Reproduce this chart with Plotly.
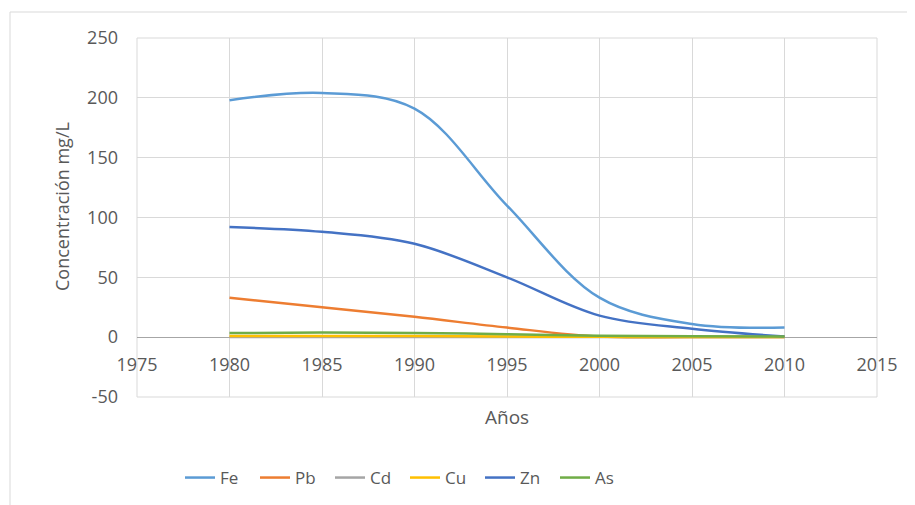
import plotly.graph_objects as go

years = [1980, 1985, 1990, 1995, 2000, 2005, 2010]
fe = [198, 204, 191, 110, 33, 11, 8]
pb = [33, 25, 17, 8, 0.5, 0.2, 0.1]
cd = [0.2, 0.2, 0.2, 0.1, 0.1, 0.1, 0.05]
cu = [1.0, 1.0, 0.9, 0.6, 0.3, 0.2, 0.1]
zn = [92, 88, 78, 50, 18, 7, 0.5]
as_ = [3.5, 3.8, 3.5, 2.5, 1.2, 0.8, 0.5]

x_ticks = [1975, 1980, 1985, 1990, 1995, 2000, 2005, 2010, 2015]
y_ticks = [-50, 0, 50, 100, 150, 200, 250]
y_tick_text = ["-50", "0", "50", "100", "150", "200", "250"]

series = [
    ("Fe", fe, "#5B9BD5"),
    ("Pb", pb, "#ED7D31"),
    ("Cd", cd, "#A5A5A5"),
    ("Cu", cu, "#FFC000"),
    ("Zn", zn, "#4472C4"),
    ("As", as_, "#70AD47"),
]

fig = go.Figure()
for name, vals, col in series:
    fig.add_trace(go.Scatter(
        x=years, y=vals, name=name, mode="lines",
        line=dict(color=col, width=2.5, shape="spline", smoothing=1.0),
    ))

FAM = "Open Sans, Liberation Sans, sans-serif"
GREY = "#595959"
font = dict(family=FAM, size=18, color=GREY)

# page offset (body margin) compensation
OFF = 8
FW, FH = 915, 505
L, R, T, B = 137 - OFF, 877 - OFF, 38 - OFF, 397 - OFF
W, H = R - L, B - T
def px(x):
    return (x - OFF - L) / W
def py(y):
    return (B - (y - OFF)) / H

fig.update_layout(
    width=FW, height=FH,
    margin=dict(l=L, r=FW - R, t=T, b=FH - B, autoexpand=False),
    paper_bgcolor="white", plot_bgcolor="white",
    font=font,
    showlegend=True,
    legend=dict(orientation="h", x=px(180), xanchor="left", y=py(478), yanchor="middle",
                font=dict(family=FAM, size=17, color=GREY), entrywidth=30, entrywidthmode="pixels",
                tracegroupgap=0),
    xaxis=dict(range=[1975, 2015], tickvals=x_ticks,
               showgrid=True, gridcolor="#d9d9d9", gridwidth=1,
               zeroline=False, showline=False, ticks="",
               anchor="free", position=50 / 300,
               tickfont=font, ticklabelstandoff=15),
    yaxis=dict(range=[-50, 250], tickvals=y_ticks, ticktext=y_tick_text,
               showgrid=True, gridcolor="#d9d9d9", gridwidth=1,
               zeroline=True, zerolinecolor="#a6a6a6", zerolinewidth=1,
               showline=False, ticks="", tickfont=font, ticklabelstandoff=18),
    annotations=[
        dict(text="Concentración mg/L", x=px(62), y=py(207), xref="paper", yref="paper",
             showarrow=False, textangle=-90, font=dict(family=FAM, size=18, color=GREY),
             xanchor="center", yanchor="middle"),
        dict(text="Años", x=px(507), y=py(417), xref="paper", yref="paper",
             showarrow=False, font=dict(family=FAM, size=19, color=GREY),
             xanchor="center", yanchor="middle"),
    ],
    shapes=[
        dict(type="rect", xref="paper", yref="paper", x0=px(10), x1=px(930), y0=py(520), y1=py(12),
             line=dict(color="#d9d9d9", width=1), layer="below"),
        dict(type="rect", xref="paper", yref="paper", x0=0, x1=1, y0=0, y1=1,
             line=dict(color="#d9d9d9", width=1), layer="below"),
    ],
)

fig.write_html("out.html")
